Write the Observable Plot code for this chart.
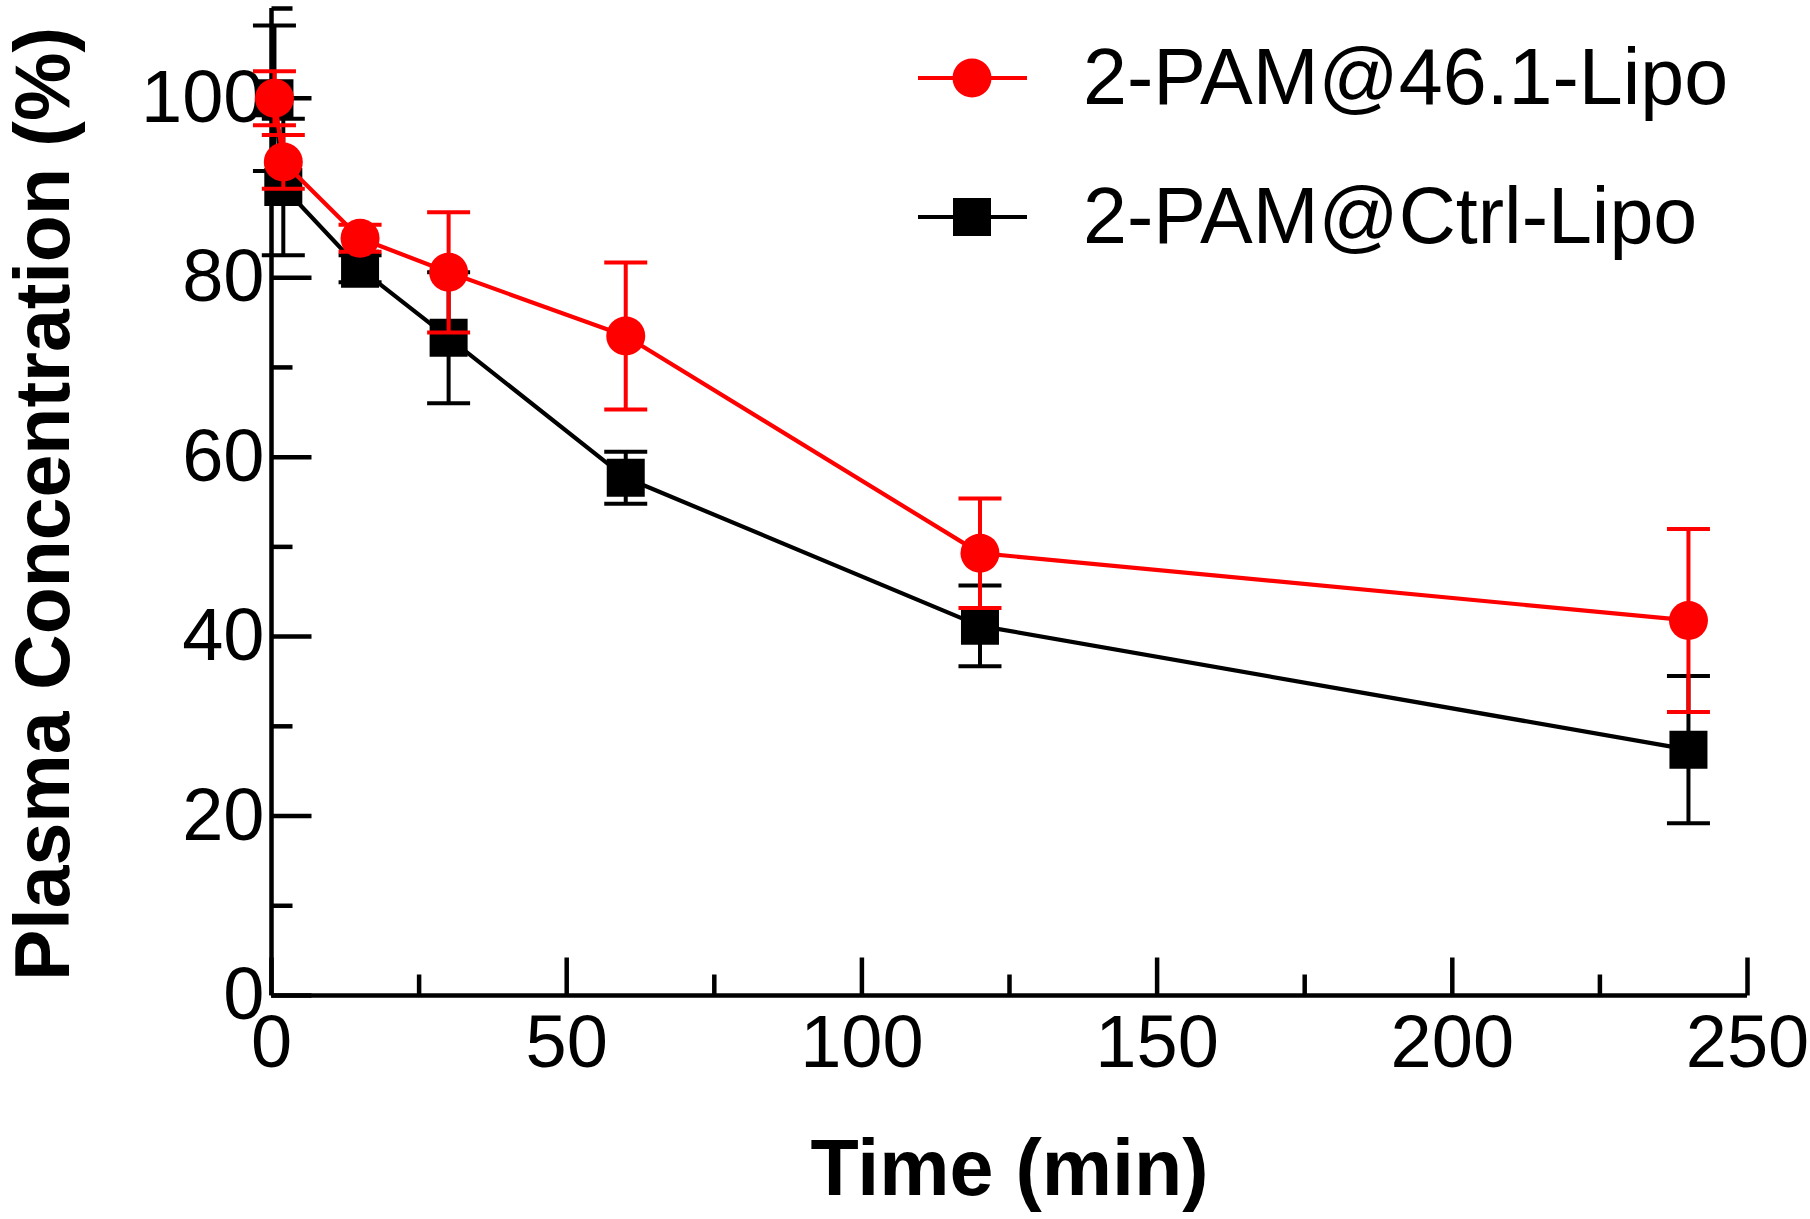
<!DOCTYPE html>
<html>
<head>
<meta charset="utf-8">
<script src="https://cdn.jsdelivr.net/npm/d3@7"></script>
<script src="https://cdn.jsdelivr.net/npm/@observablehq/plot@0.6"></script>
<style>
  body { margin: 0; background: #fff; }
  #chart { width: 1810px; height: 1219px; }
</style>
</head>
<body>
<div id="chart"></div>
<script>
// ---- data ----
const times = [0.5, 2, 15, 30, 60, 120, 240];
const lipoMean = [100, 92.9, 84.4, 80.6, 73.5, 49.3, 41.8];
const lipoErr  = [3.0, 3.0, 1.5, 6.7, 8.2, 6.1, 10.2];
const ctrlMean = [100, 90.1, 81.0, 73.3, 57.7, 41.2, 27.4];
const ctrlErr  = [8.1, 7.6, 1.5, 7.3, 2.9, 4.5, 8.2];
const seriesNames = ["2-PAM@46.1-Lipo", "2-PAM@Ctrl-Lipo"];
const xMajor = [0, 50, 100, 150, 200, 250];
const xMinor = [25, 75, 125, 175, 225];
const yMajor = [0, 20, 40, 60, 80, 100];
const yMinor = [10, 30, 50, 70, 90, 110];

const RED = "#ff0000";
const FONT = "'Liberation Sans', Arial, Helvetica, sans-serif";

const lipo = times.map((t, i) => ({t, mean: lipoMean[i], err: lipoErr[i]}));
const ctrl = times.map((t, i) => ({t, mean: ctrlMean[i], err: ctrlErr[i]}));

// custom symbols (size = PI r^2)
const len = (size) => Math.sqrt(size / Math.PI);
const tickUp = {draw(ctx, size) { const l = len(size); ctx.moveTo(0, 0); ctx.lineTo(0, -l); }};
const tickRight = {draw(ctx, size) { const l = len(size); ctx.moveTo(0, 0); ctx.lineTo(l, 0); }};
const capSym = {draw(ctx, size) { const l = len(size); ctx.moveTo(-l, 0); ctx.lineTo(l, 0); }};
const squareSym = {draw(ctx, size) { const l = len(size); ctx.rect(-l, -l, 2 * l, 2 * l); }};

function seriesMarks(rows, color, marker) {
  return [
    Plot.line(rows, {x: "t", y: "mean", stroke: color, strokeWidth: 4.2}),
    Plot.ruleX(rows, {x: "t", y1: d => d.mean - d.err, y2: d => d.mean + d.err, stroke: color, strokeWidth: 4}),
    Plot.dot(rows, {x: "t", y: d => d.mean + d.err, symbol: capSym, r: 21.5, fill: "none", stroke: color, strokeWidth: 4}),
    Plot.dot(rows, {x: "t", y: d => d.mean - d.err, symbol: capSym, r: 21.5, fill: "none", stroke: color, strokeWidth: 4}),
    marker === "square"
      ? Plot.dot(rows, {x: "t", y: "mean", symbol: squareSym, r: 19, fill: color, stroke: "none"})
      : Plot.dot(rows, {x: "t", y: "mean", r: 19.5, fill: color, stroke: "none"})
  ];
}

const chart = Plot.plot({
  width: 1810,
  height: 1219,
  marginLeft: 271,
  marginRight: 63,
  marginTop: 8,
  marginBottom: 224,
  style: {fontFamily: FONT, background: "#fff", color: "#000", overflow: "visible"},
  x: {domain: [0, 250]},
  y: {domain: [0, 110]},
  marks: [
    Plot.axisX(xMajor, {tickSize: 0, tickPadding: 19, fontSize: 74, label: null}),
    Plot.axisY(yMajor, {tickSize: 0, tickPadding: 7, fontSize: 74, label: null}),
    Plot.text(["Time (min)"], {frameAnchor: "bottom", lineAnchor: "bottom", dy: 199, fontSize: 79, fontWeight: "bold"}),
    Plot.text(["Plasma Concentration (%)"], {frameAnchor: "left", textAnchor: "middle", rotate: -90, lineAnchor: "bottom", dx: -203, dy: 2, fontSize: 77, fontWeight: "bold"}),
    // axis lines and inward ticks
    Plot.ruleX([0], {stroke: "black", strokeWidth: 4.5}),
    Plot.ruleY([0], {stroke: "black", strokeWidth: 4.5}),
    Plot.dot(xMajor, {x: d => d, frameAnchor: "bottom", symbol: tickUp, r: 38, stroke: "black", fill: "none", strokeWidth: 4.5}),
    Plot.dot(xMinor, {x: d => d, frameAnchor: "bottom", symbol: tickUp, r: 21, stroke: "black", fill: "none", strokeWidth: 4.5}),
    Plot.dot(yMajor, {y: d => d, frameAnchor: "left", symbol: tickRight, r: 40, stroke: "black", fill: "none", strokeWidth: 4.5}),
    Plot.dot(yMinor, {y: d => d, frameAnchor: "left", symbol: tickRight, r: 21, stroke: "black", fill: "none", strokeWidth: 4.5}),
    // data
    ...seriesMarks(ctrl, "black", "square"),
    ...seriesMarks(lipo, RED, "circle")
  ]
});

document.getElementById("chart").appendChild(chart);

// legend drawn inside the plot area (top right)
const svg = d3.select(chart);
const legend = svg.append("g").attr("font-family", FONT).attr("font-size", 79).attr("text-anchor", "start");
const legendItems = [
  {name: seriesNames[0], color: RED, marker: "circle"},
  {name: seriesNames[1], color: "black", marker: "square"}
];
legendItems.forEach((item, i) => {
  const g = legend.append("g").attr("transform", `translate(0, ${i * 139})`);
  g.append("line").attr("x1", 918).attr("x2", 1027).attr("y1", 78).attr("y2", 78)
    .attr("stroke", item.color).attr("stroke-width", 4);
  if (item.marker === "circle") {
    g.append("circle").attr("cx", 972).attr("cy", 78).attr("r", 19.5).attr("fill", item.color);
  } else {
    g.append("rect").attr("x", 953).attr("y", 59).attr("width", 38).attr("height", 38).attr("fill", item.color);
  }
  g.append("text").attr("x", 1083).attr("y", 104).attr("text-anchor", "start").attr("fill", "#000").text(item.name);
});
</script>
</body>
</html>
